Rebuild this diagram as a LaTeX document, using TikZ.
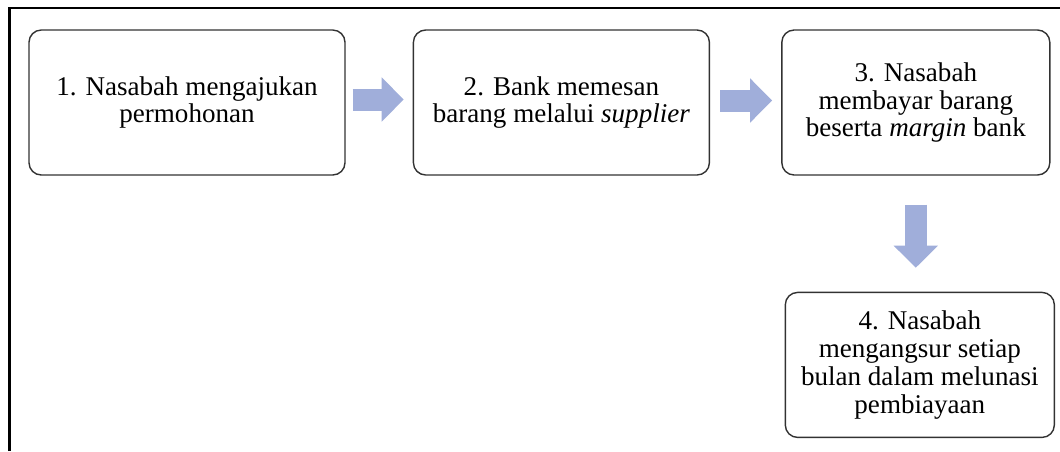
\documentclass[tikz,border=0pt]{standalone}
\usepackage{fontspec}
\setmainfont{Liberation Serif}
\usetikzlibrary{arrows.meta,positioning}
\definecolor{arrowblue}{RGB}{160,174,218}
\definecolor{boxline}{RGB}{50,50,50}

\begin{document}
\begin{tikzpicture}[x=0.02cm, y=-0.02cm, node distance=67*0.02cm,
    stepbox/.style={draw=boxline, line width=0.8pt, rounded corners=7pt, align=center,
      minimum height=145*0.02cm, inner sep=2pt, font=\fontsize{15.4}{15.8}\selectfont},
    fatarrow/.style={draw=arrowblue, line width=22*0.02cm,
      -{Triangle[length=22*0.02cm, width=43*0.02cm]}}]
    \useasboundingbox (0,0) rectangle (1060,451);
    % frame
    \draw[line width=1.2pt] (9.5,451) -- (9.5,8) -- (1060,8);
    % steps
    \node[stepbox, minimum width=316*0.02cm] (apply) at (187,102.5) {1. Nasabah mengajukan\\permohonan};
    \node[stepbox, minimum width=296*0.02cm, right=67*0.02cm of apply] (order) {2. Bank memesan\\barang melalui \textit{supplier}};
    \node[stepbox, minimum width=268*0.02cm, right=71*0.02cm of order] (pay) {3. Nasabah\\membayar barang\\beserta \textit{margin} bank};
    \node[stepbox, minimum width=269*0.02cm, below=116*0.02cm of pay, xshift=4*0.02cm] (instal) {4. Nasabah\\mengangsur setiap\\bulan dalam melunasi\\pembiayaan};
    % arrows
    \draw[fatarrow] ([xshift=7*0.02cm, yshift=3*0.02cm]apply.east) -- ([xshift=-9*0.02cm, yshift=3*0.02cm]order.west);
    \draw[fatarrow] ([xshift=10*0.02cm, yshift=2*0.02cm]order.east) -- ([xshift=-9*0.02cm, yshift=2*0.02cm]pay.west);
    \draw[fatarrow] ([yshift=-29*0.02cm]pay.south) -- ([yshift=24*0.02cm, xshift=-4*0.02cm]instal.north);
\end{tikzpicture}
\end{document}
